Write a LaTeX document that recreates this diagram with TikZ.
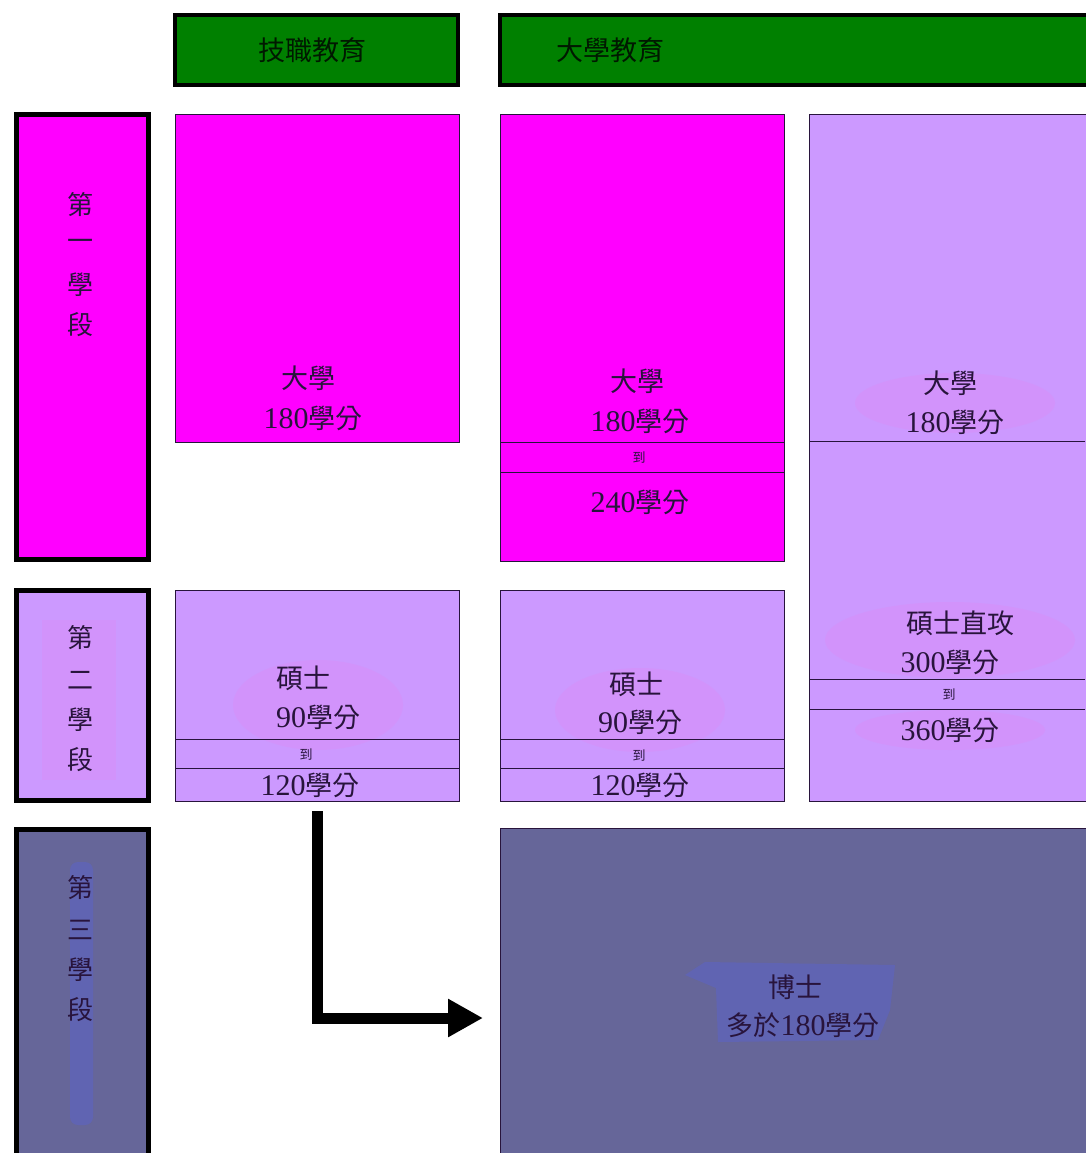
\documentclass[tikz,border=0pt]{standalone}
\usepackage{fontspec}
\setmainfont{Liberation Serif}
\newfontfamily\cjk{Noto Sans CJK TC}
\usetikzlibrary{arrows.meta}
\definecolor{mag}{RGB}{255,0,255}
\definecolor{lpur}{RGB}{204,153,255}
\definecolor{dpur}{RGB}{102,102,153}
\definecolor{hgreen}{RGB}{0,128,0}
\definecolor{ink}{RGB}{40,20,60}
\definecolor{smearpink}{RGB}{220,140,245}
\definecolor{smearblue}{RGB}{95,100,185}
\tikzset{
  hdr/.style={draw=black, line width=4pt, fill=hgreen, anchor=north west, inner sep=0pt},
  stagebox/.style={draw=black, line width=5pt, anchor=north west, inner sep=0pt},
  cell/.style={draw=ink, line width=1pt, anchor=north west, inner sep=0pt},
  sep/.style={draw=ink, line width=1pt},
  big/.style={text=ink, inner sep=0pt, font=\fontsize{30}{32}\selectfont},
  hz/.style={text=ink, inner sep=0pt, font=\fontsize{27}{30}\cjk},
  small/.style={text=ink, inner sep=0pt, font=\fontsize{13}{14}\cjk},
  vlab/.style={text=ink, inner sep=0pt, font=\fontsize{26}{28}\cjk},
  hdrtxt/.style={text=black!80!hgreen, inner sep=0pt, font=\fontsize{27}{30}\cjk},
  smear/.style={fill=smearpink, opacity=0.4},
  bigarrow/.style={line width=11pt, line join=miter, -{Triangle[length=35pt,width=36pt]}}
}
\newcommand{\cred}[1]{#1{\cjk\fontsize{27}{30}\selectfont 學分}}
\begin{document}
\begin{tikzpicture}[x=1pt,y=-1pt]
\useasboundingbox (0,0) rectangle (1085,1153);
% headers
\node[hdr, minimum width=283pt, minimum height=70pt] (h1) at (173,13) {};
\node[hdr, minimum width=600pt, minimum height=70pt] (h2) at (498,13) {};
\node[hdrtxt] (h1t) at (312,50) {技職教育};
\node[hdrtxt] (h2t) at (610,50) {大學教育};
% stage labels
\node[stagebox, fill=mag, minimum width=132pt, minimum height=445pt] (s1) at (14,112) {};
\node[stagebox, fill=lpur, minimum width=132pt, minimum height=210pt] (s2) at (14,588) {};
\node[stagebox, fill=dpur, minimum width=132pt, minimum height=340pt] (s3) at (14,827) {};
\fill[smearpink, opacity=0.4] (42,620) rectangle (116,780);
\fill[smearblue, opacity=0.8, rounded corners=8pt] (70,862) rectangle (93,1125);
\node[vlab] (s1a) at (80,205) {第};
\node[vlab] (s1b) at (80,245) {一};
\node[vlab] (s1c) at (80,285) {學};
\node[vlab] (s1d) at (80,325) {段};
\node[vlab] (s2a) at (80,638) {第};
\node[vlab] (s2b) at (80,680) {二};
\node[vlab] (s2c) at (80,720) {學};
\node[vlab] (s2d) at (80,760) {段};
\node[vlab] (s3a) at (80,888) {第};
\node[vlab] (s3b) at (80,930) {三};
\node[vlab] (s3c) at (80,970) {學};
\node[vlab] (s3d) at (80,1010) {段};
% column boxes
\node[cell, fill=mag, minimum width=284pt, minimum height=328pt] (jz1) at (175,114) {};
\node[cell, fill=mag, minimum width=284pt, minimum height=447pt] (dx1) at (500,114) {};
\node[cell, fill=lpur, minimum width=290pt, minimum height=687pt] (rc) at (809,114) {};
\node[cell, fill=lpur, minimum width=284pt, minimum height=211pt] (jz2) at (175,590) {};
\node[cell, fill=lpur, minimum width=284pt, minimum height=211pt] (dx2) at (500,590) {};
\node[cell, fill=dpur, minimum width=600pt, minimum height=340pt] (phd) at (500,828) {};
% smears
\fill[smear] (955,403) ellipse (100pt and 30pt);
\fill[smear] (950,640) ellipse (125pt and 38pt);
\fill[smear] (950,730) ellipse (95pt and 20pt);
\fill[smear] (318,705) ellipse (85pt and 45pt);
\fill[smear] (640,710) ellipse (85pt and 42pt);
\fill[smearblue, opacity=0.8] (685,975) -- (705,962) -- (895,965) -- (890,1010) -- (878,1040) -- (718,1042) -- (716,988) -- cycle;
% separator lines
\draw[sep] (dx1.west |- 0,442) -- (dx1.east |- 0,442);
\draw[sep] (dx1.west |- 0,472) -- (dx1.east |- 0,472);
\draw[sep] (rc.west |- 0,441) -- (1085,441);
\draw[sep] (rc.west |- 0,679) -- (1085,679);
\draw[sep] (rc.west |- 0,709) -- (1085,709);
\draw[sep] (jz2.west |- 0,739) -- (jz2.east |- 0,739);
\draw[sep] (jz2.west |- 0,768) -- (jz2.east |- 0,768);
\draw[sep] (dx2.west |- 0,739) -- (dx2.east |- 0,739);
\draw[sep] (dx2.west |- 0,768) -- (dx2.east |- 0,768);
% texts
\node[hz] (jz1a) at (308,378) {大學};
\node[big] (jz1b) at (313,418) {\cred{180}};
\node[hz] (dx1a) at (637,381) {大學};
\node[big] (dx1b) at (640,421) {\cred{180}};
\node[small] (dx1c) at (639,458) {到};
\node[big] (dx1d) at (640,502) {\cred{240}};
\node[hz] (rca) at (950,383) {大學};
\node[big] (rcb) at (955,422) {\cred{180}};
\node[hz] (rcc) at (960,623) {碩士直攻};
\node[big] (rcd) at (950,662) {\cred{300}};
\node[small] (rce) at (949,695) {到};
\node[big] (rcf) at (950,730) {\cred{360}};
\node[hz] (jz2a) at (303,678) {碩士};
\node[big] (jz2b) at (318,717) {\cred{90}};
\node[small] (jz2c) at (306,755) {到};
\node[big] (jz2d) at (310,785) {\cred{120}};
\node[hz] (dx2a) at (636,684) {碩士};
\node[big] (dx2b) at (640,722) {\cred{90}};
\node[small] (dx2c) at (639,756) {到};
\node[big] (dx2d) at (640,785) {\cred{120}};
\node[hz] (phda) at (795,987) {博士};
\node[big] (phdb) at (803,1025) {{\cjk\fontsize{27}{30}\selectfont 多於}\cred{180}};
% arrow
\coordinate (aend) at (500,1018);
\draw[bigarrow, shorten <=9pt, shorten >=17pt] (jz2.south) |- (phd.west |- aend);
\end{tikzpicture}
\end{document}
